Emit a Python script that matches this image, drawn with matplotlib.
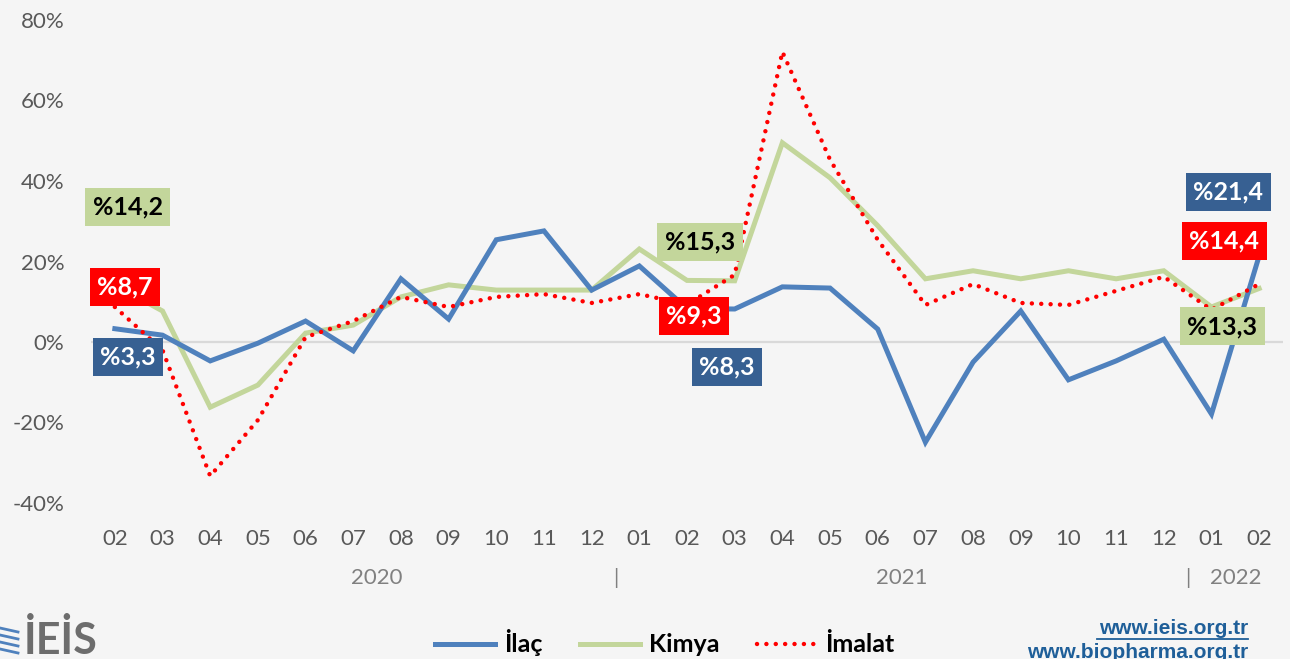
import matplotlib.pyplot as plt
import matplotlib.transforms as mtransforms
from matplotlib.lines import Line2D

months = ["02", "03", "04", "05", "06", "07", "08", "09", "10", "11", "12",
          "01", "02", "03", "04", "05", "06", "07", "08", "09", "10", "11", "12",
          "01", "02"]
years = ["2020", "2021", "2022"]
yearPos = [5.5, 16.5, 23.5]
yearSeparators = [10.5, 22.5]

ilac = [3.3, 1.7, -4.7, -0.3, 5.2, -2.2, 15.7, 5.7, 25.4, 27.6, 12.9,
        18.9, 8.3, 8.2, 13.7, 13.4, 3.2, -24.9, -5.0, 7.7, -9.4, -4.7, 0.7,
        -17.9, 21.4]
kimya = [14.2, 7.7, -16.2, -10.7, 2.2, 4.2, 11.2, 14.2, 12.9, 12.9, 12.9,
         23.1, 15.3, 15.2, 49.5, 40.8, 28.9, 15.7, 17.7, 15.7, 17.7, 15.7, 17.7,
         8.7, 13.3]
imalat = [8.7, -2.0, -33.3, -19.4, 1.2, 5.2, 11.2, 8.7, 11.2, 11.9, 9.7,
          11.9, 9.3, 16.7, 72.1, 45.3, 25.4, 9.2, 14.4, 9.7, 9.2, 12.7, 16.2,
          8.0, 14.4]

blue = "#4f81bd"
green = "#c3d69b"
red = "#ff0000"
darkBlue = "#376092"
bg = "#f5f5f5"
font = "Lato"

plt.rcParams['font.family'] = [font, 'DejaVu Sans']

fig = plt.figure(figsize=(12.9, 6.59), dpi=100, facecolor=bg)
ax = fig.add_axes([91/1290, 1-503/659, (1283-91)/1290, (503-20)/659])
ax.set_facecolor(bg)

x = list(range(len(months)))
ax.axhline(0, color="#d9d9d9", lw=1.6, zorder=1)
ax.plot(x, ilac, color=blue, lw=3.6, zorder=3, solid_joinstyle="miter")
ax.plot(x, kimya, color=green, lw=3.6, zorder=2, solid_joinstyle="miter")
ax.plot(x, imalat, color=red, lw=3.2, linestyle=(0, (0.01, 2.1)),
        dash_capstyle="round", zorder=4)

ax.set_xlim(-0.5, len(months) - 0.5)
ax.set_ylim(-40, 80)
ax.set_yticks(range(-40, 81, 20))
ax.set_yticklabels([f"{v}%" for v in range(-40, 81, 20)])
ax.set_xticks(x)
ax.set_xticklabels(months)
ax.tick_params(axis="both", length=0, labelsize=16, labelcolor="#595959")
ax.tick_params(axis="y", pad=19)
ax.tick_params(axis="x", pad=19)
for s in ax.spines.values():
    s.set_visible(False)

trans = mtransforms.blended_transform_factory(ax.transData, ax.transAxes)
for yr, p in zip(years, yearPos):
    ax.text(p, -0.155, yr, transform=trans, ha="center", va="center",
            fontsize=16, color="#808080")
for p in yearSeparators:
    ax.text(p, -0.155, "|", transform=trans, ha="center", va="center",
            fontsize=15, color="#808080")


def label(i, series, txt, face, tcol, dx, dy):
    ax.annotate(txt, xy=(i, series[i]), xytext=(dx, dy), textcoords="offset pixels",
                ha="center", va="center", fontsize=18, fontweight="bold", color=tcol,
                bbox=dict(boxstyle="square,pad=0.3", fc=face, ec="none"), zorder=6)


# pixel offsets from data points
label(0, kimya, "%14,2", green, "black", 13, 78)
label(0, imalat, "%8,7", red, "white", 10, 20)
label(0, ilac, "%3,3", darkBlue, "white", 13, -28)
label(12, kimya, "%15,3", green, "black", 13, 38)
label(12, imalat, "%9,3", red, "white", 7, -11)
label(12, ilac, "%8,3", darkBlue, "white", 40, -58)
label(24, ilac, "%21,4", darkBlue, "white", -31, 64)
label(24, imalat, "%14,4", red, "white", -35, 43)
label(24, kimya, "%13,3", green, "black", -37, -38)

handles = [Line2D([], [], color=blue, lw=3.6),
           Line2D([], [], color=green, lw=3.6),
           Line2D([], [], color=red, lw=3.2, linestyle=(0, (0.01, 2.1)), dash_capstyle="round")]
fig.legend(handles, ["İlaç", "Kimya", "İmalat"], loc="center", ncol=3,
           bbox_to_anchor=(665/1290, 1-643/659), frameon=False,
           prop={"size": 18, "weight": "bold"}, handlelength=2.4,
           columnspacing=1.5, handletextpad=0.35)

# logo
for k in range(4):
    fig.add_artist(Line2D([0, 18/1290], [1-(628+k*7)/659, 1-(632+k*7)/659],
                          color="#4f81bd", lw=2))
fig.text(24/1290, 1-640/659, "İEİS", fontsize=31, fontweight="bold",
         color="#6d6d6d", ha="left", va="center")
fig.text(1248/1290, 1-628/659, "www.ieis.org.tr", fontsize=15, fontweight="bold",
         color="#1f5f99", ha="right", va="center", family=["Liberation Sans"])
fig.add_artist(Line2D([1097/1290, 1248/1290], [1-639/659, 1-639/659], color="#1f5f99", lw=1.3))
fig.text(1248/1290, 1-652/659, "www.biopharma.org.tr", fontsize=15, fontweight="bold",
         color="#1f5f99", ha="right", va="center", family=["Liberation Sans"])

fig.savefig("out.png", dpi=100, facecolor=bg)
